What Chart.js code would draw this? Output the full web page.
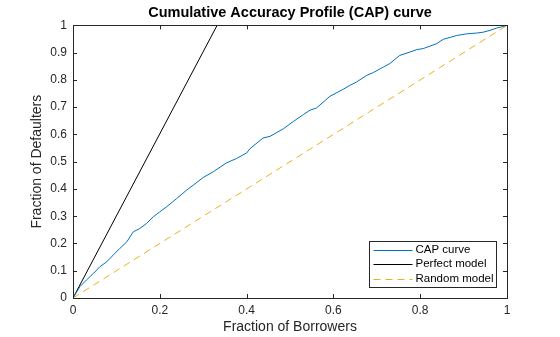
<!DOCTYPE html>
<html>
<head>
  <title>CAP curve</title>
  <script src="https://cdn.jsdelivr.net/npm/chart.js"></script>
  <style>
    body { margin: 0; background: #fff; }
    canvas { display: block; }
  </style>
</head>
<body>
  <canvas id="capChart" width="560" height="337"></canvas>

  <script>
    // values
    const capX = [0, 0.016, 0.031, 0.047, 0.062, 0.078, 0.093, 0.108, 0.124, 0.139, 0.154, 0.17, 0.185, 0.2,
      0.216, 0.239, 0.262, 0.277, 0.3, 0.323, 0.354, 0.377, 0.4, 0.408, 0.438, 0.454, 0.485, 0.508, 0.531,
      0.546, 0.561, 0.592, 0.623, 0.638, 0.653, 0.677, 0.692, 0.715, 0.73, 0.753, 0.776, 0.792, 0.807,
      0.838, 0.853, 0.869, 0.884, 0.907, 0.93, 0.945, 0.961, 0.976, 1.0];
    const capY = [0, 0.042, 0.066, 0.09, 0.115, 0.133, 0.158, 0.182, 0.206, 0.243, 0.255, 0.274, 0.298, 0.316,
      0.335, 0.365, 0.396, 0.414, 0.442, 0.463, 0.496, 0.512, 0.532, 0.548, 0.587, 0.593, 0.621, 0.648, 0.673,
      0.689, 0.697, 0.74, 0.766, 0.78, 0.792, 0.817, 0.827, 0.847, 0.86, 0.89, 0.902, 0.911, 0.915,
      0.933, 0.949, 0.956, 0.963, 0.969, 0.972, 0.975, 0.982, 0.99, 1.0];
    const perfectX = [0, 0.332, 1];
    const perfectY = [0, 1, 1];
    const randomX = [0, 1];
    const randomY = [0, 1];

    const seriesNames = ['CAP curve', 'Perfect model', 'Random model'];
    const xTicks = [0, 0.2, 0.4, 0.6, 0.8, 1];
    const xTickLabels = ['0', '0.2', '0.4', '0.6', '0.8', '1'];
    const yTicks = [0, 0.1, 0.2, 0.3, 0.4, 0.5, 0.6, 0.7, 0.8, 0.9, 1];
    const yTickLabels = ['0', '0.1', '0.2', '0.3', '0.4', '0.5', '0.6', '0.7', '0.8', '0.9', '1'];

    const FONT = 'Liberation Sans, Arial, sans-serif';
    const AXIS = '#262626';

    const toPoints = (xs, ys) => xs.map((x, i) => ({ x: x, y: ys[i] }));

    // box round the axes + inward tick marks, like matlab
    const boxPlugin = {
      id: 'box',
      afterDatasetsDraw(chart) {
        const { ctx, chartArea: a, scales } = chart;
        ctx.save();
        ctx.strokeStyle = AXIS;
        ctx.lineWidth = 1;
        ctx.beginPath();
        scales.x.ticks.forEach(t => {
          const px = Math.round(scales.x.getPixelForValue(t.value)) + 0.5;
          ctx.moveTo(px, a.bottom); ctx.lineTo(px, a.bottom - 4);
          ctx.moveTo(px, a.top); ctx.lineTo(px, a.top + 4);
        });
        scales.y.ticks.forEach(t => {
          const py = Math.round(scales.y.getPixelForValue(t.value)) + 0.5;
          ctx.moveTo(a.left, py); ctx.lineTo(a.left + 4, py);
          ctx.moveTo(a.right, py); ctx.lineTo(a.right - 4, py);
        });
        ctx.stroke();
        ctx.strokeRect(Math.round(a.left) + 0.5, Math.round(a.top) + 0.5,
          Math.round(a.right - a.left), Math.round(a.bottom - a.top));
        ctx.restore();
      }
    };

    // legend box inside the lower right corner
    const legendPlugin = {
      id: 'boxLegend',
      afterDraw(chart) {
        const { ctx, chartArea: a } = chart;
        const rowH = 14.5;
        ctx.save();
        ctx.font = '11.5px ' + FONT;
        const textW = Math.max(...seriesNames.map(s => ctx.measureText(s).width));
        const w = Math.round(45 + textW + 4);
        const h = 46;
        const x0 = Math.round(a.right - 11 - w) + 0.5;
        const y0 = Math.round(a.bottom - 11 - h) + 0.5;
        ctx.fillStyle = '#fff';
        ctx.fillRect(x0, y0, w, h);
        ctx.strokeStyle = AXIS;
        ctx.lineWidth = 1;
        ctx.strokeRect(x0, y0, w, h);
        chart.data.datasets.forEach((ds, i) => {
          const cy = y0 + 8.3 + i * rowH;
          ctx.strokeStyle = ds.borderColor;
          ctx.setLineDash(ds.borderDash || []);
          ctx.beginPath();
          ctx.moveTo(x0 + 4, Math.round(cy) + 0.5);
          ctx.lineTo(x0 + 43, Math.round(cy) + 0.5);
          ctx.stroke();
          ctx.setLineDash([]);
          ctx.fillStyle = '#000';
          ctx.textBaseline = 'middle';
          ctx.fillText(ds.label, x0 + 46, cy);
        });
        ctx.restore();
      }
    };

    new Chart(document.getElementById('capChart'), {
      type: 'line',
      data: {
        datasets: [
          { label: seriesNames[0], data: toPoints(capX, capY), borderColor: '#0072BD', borderWidth: 1 },
          { label: seriesNames[1], data: toPoints(perfectX, perfectY), borderColor: '#000000', borderWidth: 1 },
          { label: seriesNames[2], data: toPoints(randomX, randomY), borderColor: '#EDB120', borderWidth: 1, borderDash: [7, 5] }
        ]
      },
      options: {
        responsive: false,
        animation: false,
        devicePixelRatio: 1,
        elements: { point: { radius: 0 }, line: { tension: 0, fill: false } },
        layout: { padding: { left: 0, right: 53, top: 0, bottom: 0 } },
        scales: {
          x: {
            type: 'linear', min: 0, max: 1,
            grid: { display: false, drawTicks: false },
            border: { display: false },
            afterBuildTicks: s => { s.ticks = xTicks.map(v => ({ value: v })); },
            afterFit: s => { s.height = 39; },
            ticks: {
              autoSkip: false, maxRotation: 0, padding: 5, color: AXIS,
              font: { family: FONT, size: 12 },
              callback: (v, i) => xTickLabels[i]
            },
            title: {
              display: true, text: 'Fraction of Borrowers', color: AXIS,
              font: { family: FONT, size: 14 }, padding: { top: 0, bottom: 1 }
            }
          },
          y: {
            type: 'linear', min: 0, max: 1,
            grid: { display: false, drawTicks: false },
            border: { display: false },
            afterBuildTicks: s => { s.ticks = yTicks.map(v => ({ value: v })); },
            afterFit: s => { s.width = 73; },
            ticks: {
              autoSkip: false, padding: 6, color: AXIS,
              font: { family: FONT, size: 12 },
              callback: (v, i) => yTickLabels[i]
            },
            title: {
              display: true, text: 'Fraction of Defaulters', color: AXIS,
              font: { family: FONT, size: 14 }, padding: { top: 29, bottom: 0 }
            }
          }
        },
        plugins: {
          legend: { display: false },
          tooltip: { enabled: false },
          title: {
            display: true, text: 'Cumulative Accuracy Profile (CAP) curve', color: '#000',
            fullSize: false,
            font: { family: FONT, size: 14.5, weight: 'bold' },
            padding: { top: 4, bottom: 4 }
          }
        }
      },
      plugins: [boxPlugin, legendPlugin]
    });
  </script>
</body>
</html>
